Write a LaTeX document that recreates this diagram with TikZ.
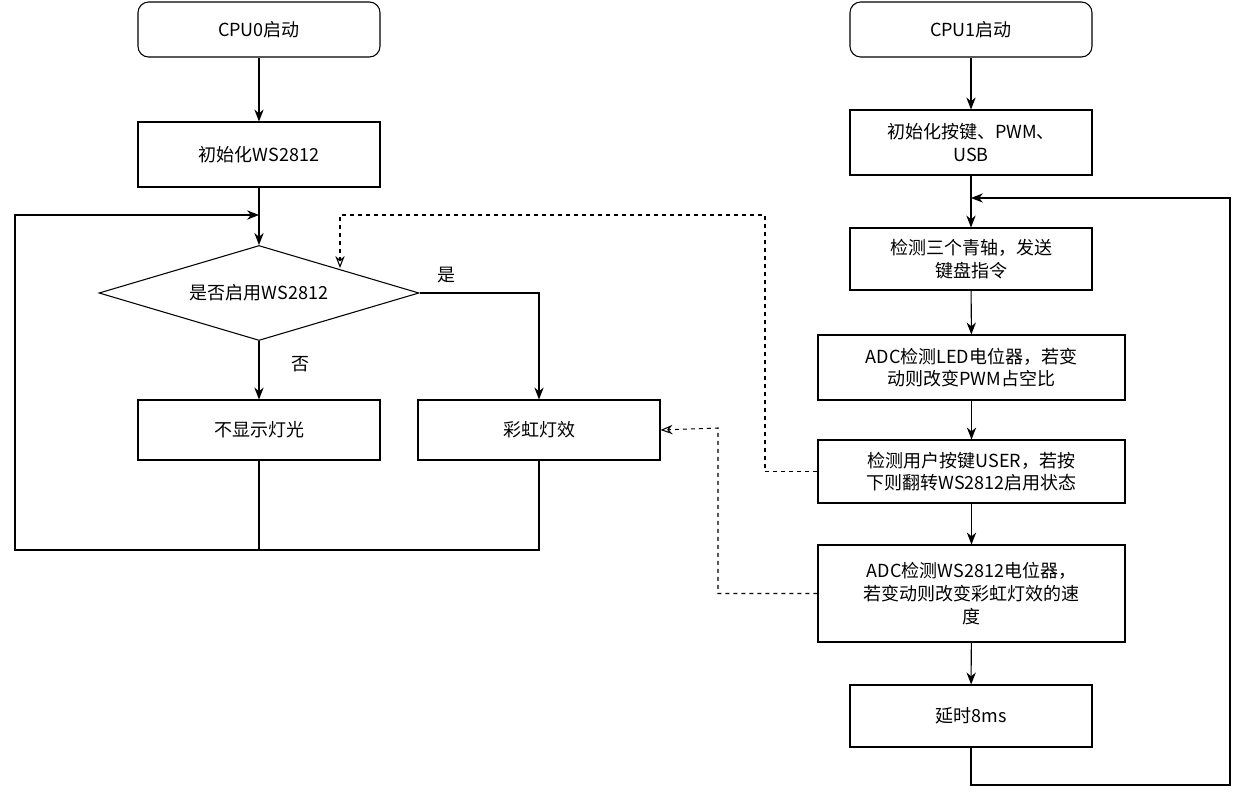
\documentclass[tikz,border=0pt]{standalone}
\usepackage{fontspec}
\setmainfont{Noto Sans CJK SC}
\usetikzlibrary{shapes.geometric,arrows.meta}
\begin{document}
\begin{tikzpicture}[x=0.75pt,y=-0.75pt,
  every node/.style={font=\fontsize{13.5}{17}\selectfont, draw, thick, align=center, inner sep=2pt},
  box/.style={rectangle, minimum width=242*0.75pt, minimum height=#1*0.75pt},
  wbox/.style={rectangle, minimum width=307*0.75pt, minimum height=#1*0.75pt},
  rbox/.style={rectangle, rounded corners=8pt, minimum width=242*0.75pt, minimum height=55*0.75pt},
  arr/.style={thick,-{Stealth[length=9pt,width=7pt]}},
  dsh/.style={thick,dashed,-{Stealth[length=9pt,width=7pt,open]}},
  lab/.style={draw=none}]
\useasboundingbox (0,0) rectangle (1250,806);
\node[rbox] (c0) at (259,29.5) {CPU0启动};
\node[box=65] (i0) at (259,154.5) {初始化WS2812};
\node[diamond, aspect=3.37, minimum width=320*0.75pt, minimum height=95*0.75pt, inner sep=0pt] (d) at (259,293) {是否启用WS2812};
\node[box=60] (no) at (259,430) {不显示灯光};
\node[box=60] (rb) at (539,430) {彩虹灯效};
\node[lab] at (446,275) {是};
\node[lab] at (300,364) {否};
\coordinate (m0) at (259,215);
\draw[arr] (c0) -- (i0);
\draw[thick] (i0) -- (m0);
\draw[arr] (m0) -- (d.north);
\draw[arr] (d.south) -- (no);
\draw[arr] (d.east) -| (rb.north);
\draw[arr] (no.south) -- (259,550) -- (15,550) -- (15,215) -- (m0);
\draw[thick] (rb.south) |- (259,550);

\node[rbox] (c1) at (971,29.5) {CPU1启动};
\node[box=65] (i1) at (971,142.5) {初始化按键、PWM、\\USB};
\node[box=62] (k) at (971,259) {检测三个青轴，发送\\键盘指令};
\node[wbox=65] (a1) at (971.5,367.5) {ADC检测LED电位器，若变\\动则改变PWM占空比};
\node[wbox=63] (u) at (971.5,471.5) {检测用户按键USER，若按\\下则翻转WS2812启用状态};
\node[wbox=97] (a2) at (971.5,593.5) {ADC检测WS2812电位器，\\若变动则改变彩虹灯效的速\\度};
\node[box=62] (t) at (971,716) {延时8ms};
\coordinate (m1) at (971,198);
\draw[arr] (c1) -- (i1);
\draw[thick] (i1) -- (m1);
\draw[arr] (m1) -- (k);
\draw[arr] (k) -- (a1);
\draw[arr] (a1) -- (u);
\draw[arr] (u) -- (a2);
\draw[arr] (a2) -- (t);
\draw[arr] (t.south) -- (971,785) -- (1230,785) -- (1230,198) -- (m1);
\draw[dsh] (u.west) -- (765,471.5) -- (765,215) -- (340,215) -- (340,268);
\draw[dsh] (a2.west) -- (718,593.5) -- (718,428) -- (rb.east);
\end{tikzpicture}
\end{document}
